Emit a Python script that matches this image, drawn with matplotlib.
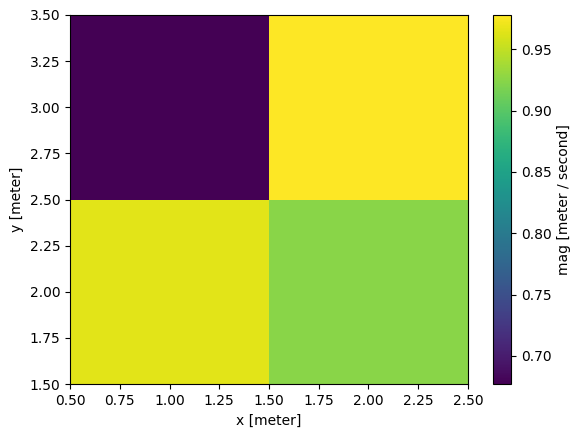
import numpy as np
import matplotlib.pyplot as plt

# Grid coordinates (cell centres) and magnitudes
x = [1.0, 2.0]
y = [2.0, 3.0]
mag = [[0.965, 0.925],   # y = 2
       [0.677, 0.978]]   # y = 3

fig, ax = plt.subplots(figsize=(5.8, 4.38), dpi=100)
mesh = ax.pcolormesh(x, y, np.array(mag), shading="nearest", cmap="viridis")
cbar = fig.colorbar(mesh, ax=ax)
cbar.set_label("mag [meter / second]")

ax.set_xlabel("x [meter]")
ax.set_ylabel("y [meter]")

fig.subplots_adjust(left=0.121, right=0.978, top=0.966, bottom=0.123)
plt.savefig("out.png", dpi=100)
